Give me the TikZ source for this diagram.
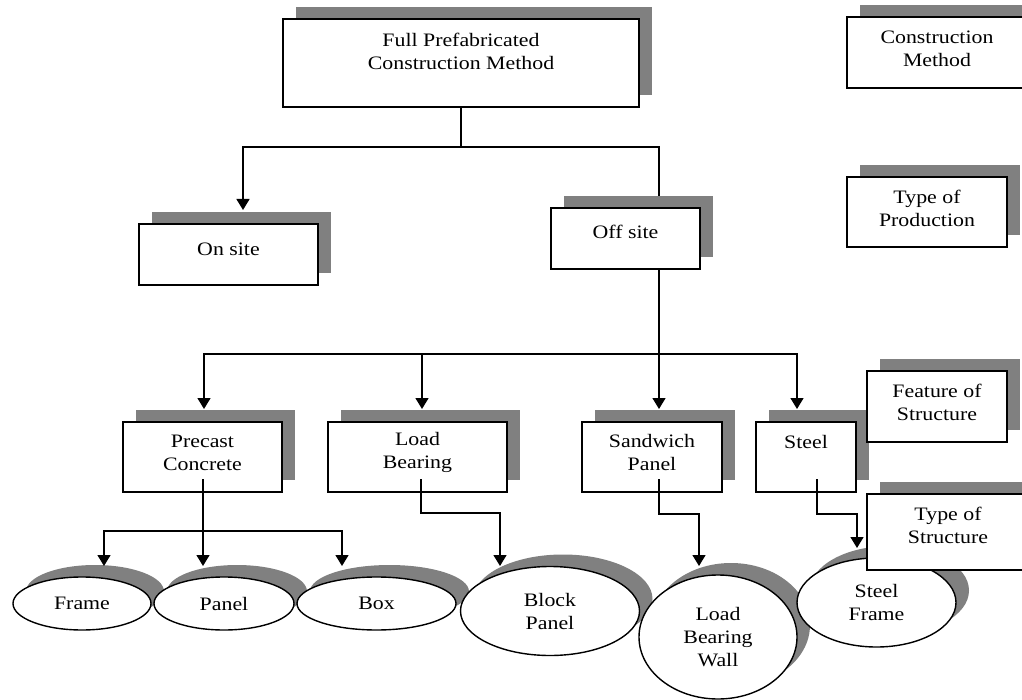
\documentclass[tikz,border=0pt]{standalone}
\usepackage{fontspec}
\setmainfont{Liberation Serif}[FakeStretch=1.15]
\usetikzlibrary{shadows,arrows.meta,shapes.geometric}

\tikzset{
  every node/.style={font=\fontsize{19}{23}\selectfont},
  shade3d/.style={drop shadow={shadow xshift=13pt, shadow yshift=12pt, fill=black!50, opacity=1}},
  boxsty/.style={draw, line width=1.4pt, fill=white, rectangle, inner sep=0pt, shade3d},
  ovalsty/.style={draw, line width=1.4pt, fill=white, ellipse, inner sep=0pt, align=center, shade3d},
  txt/.style={align=center, inner sep=0pt},
  link/.style={line width=1.4pt},
  arr/.style={link, -{Triangle[length=11pt,width=13pt]}},
}

\begin{document}
\begin{tikzpicture}[x=1pt,y=-1pt]
\useasboundingbox (0,0) rectangle (1022,700);
\fill[white] (0,0) rectangle (1022,700);
\clip (0,0) rectangle (1022,700);

% ---- level 1: construction method
\node[boxsty, minimum width=356pt, minimum height=88pt] (main) at (461,63) {};
\node[txt] (mainT) at (461,51) {Full Prefabricated\\Construction Method};

\node[boxsty, minimum width=180pt, minimum height=71pt] (cm) at (937,52.5) {};
\node[txt] (cmT) at (937,49) {Construction\\Method};

% ---- level 2: type of production
\node[boxsty, minimum width=179pt, minimum height=61pt] (onsite) at (228.5,254.5) {};
\node[txt] (onsiteT) at (228.5,249) {On site};

\node[boxsty, minimum width=149pt, minimum height=61pt] (offsite) at (625.5,238.5) {};
\node[txt] (offsiteT) at (625.5,232) {Off site};

\node[boxsty, minimum width=160pt, minimum height=70pt] (tp) at (927,212) {};
\node[txt] (tpT) at (927,208) {Type of\\Production};

% ---- level 3: feature of structure
\node[boxsty, minimum width=159pt, minimum height=70pt] (pc) at (202.5,457) {};
\node[txt] (pcT) at (202.5,452.5) {Precast\\Concrete};

\node[boxsty, minimum width=179pt, minimum height=70pt] (lb) at (417.5,457) {};
\node[txt] (lbT) at (417.5,452.5) {Load\\Bearing};

\node[boxsty, minimum width=140pt, minimum height=70pt] (sp) at (652,457) {};
\node[txt] (spT) at (652,452.5) {Sandwich\\Panel};

\node[boxsty, minimum width=100pt, minimum height=70pt] (st) at (806,457) {};
\node[txt] (stT) at (806,442) {Steel};

\node[boxsty, minimum width=140pt, minimum height=71pt] (fs) at (937,406.5) {};
\node[txt] (fsT) at (937,402) {Feature of\\Structure};

% ---- level 4: type of structure
\node[ovalsty, minimum width=138pt, minimum height=53pt] (frame) at (82,603.5) {Frame};
\node[ovalsty, minimum width=140pt, minimum height=53pt] (panel) at (224,603.5) {Panel};
\node[ovalsty, minimum width=159pt, minimum height=53pt] (box) at (376.5,603.5) {Box};
\node[ovalsty, minimum width=179pt, minimum height=89pt] (block) at (550,611) {Block\\Panel};
\node[ovalsty, minimum width=158pt, minimum height=124pt] (lbw) at (718,637) {Load\\Bearing\\Wall};
\node[ovalsty, minimum width=159pt, minimum height=89pt] (sframe) at (876.5,602.5) {Steel\\Frame};

\node[boxsty, minimum width=162pt, minimum height=76pt] (ts) at (948,532) {};
\node[txt] (tsT) at (948,525) {Type of\\Structure};

% ---- connectors: method -> production
\coordinate (split1) at (461,147);
\coordinate (onIn) at (243,210);
\coordinate (offIn) at (659,196);
\draw[link] (main.south) -- (split1);
\draw[arr] (split1) -| (onIn);
\draw[link] (split1) -| (offIn);

% ---- connectors: off site -> features
\coordinate (split2) at (659,354);
\coordinate (pcIn) at (204,409);
\coordinate (lbIn) at (422,409);
\coordinate (spIn) at (659,409);
\coordinate (stIn) at (797,409);
\draw[link] (offsite.south -| offIn) -- (split2);
\draw[arr] (split2) -- (spIn);
\draw[arr] (split2) -| (pcIn);
\draw[arr] (split2) -| (stIn);
\draw[arr] (lbIn |- split2) -- (lbIn);

% ---- connectors: features -> structures
\coordinate (pcOut) at (203,479);
\coordinate (pcSplit) at (203,531);
\coordinate (frameIn) at (104,566);
\coordinate (panelIn) at (203,566);
\coordinate (boxIn) at (342,566);
\draw[arr] (pcOut) -- (panelIn);
\draw[arr] (pcSplit) -| (frameIn);
\draw[arr] (pcSplit) -| (boxIn);

\coordinate (lbOut) at (421,479);
\coordinate (blockIn) at (500,566);
\draw[arr] (lbOut) -- ++(0,34) -| (blockIn);

\coordinate (spOut) at (659,479);
\coordinate (lbwIn) at (699,566);
\draw[arr] (spOut) -- ++(0,35) -| (lbwIn);

\coordinate (stOut) at (817,479);
\coordinate (sframeIn) at (857,548);
\draw[arr] (stOut) -- ++(0,35) -| (sframeIn);
\end{tikzpicture}
\end{document}
